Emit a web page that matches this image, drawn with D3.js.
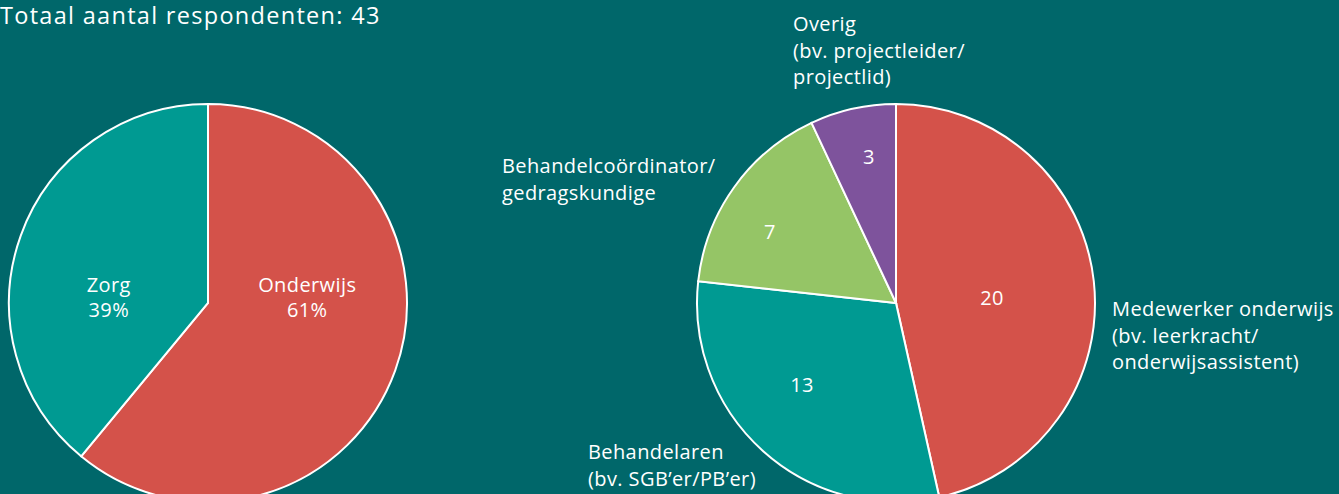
<!DOCTYPE html>
<html>
<head>
<meta charset="utf-8">
<script src="https://cdn.jsdelivr.net/npm/d3@7"></script>
<style>
  html, body { margin: 0; padding: 0; background: #00676a; }
  svg { display: block; }
  text { font-family: "Open Sans", sans-serif; fill: #fff; letter-spacing: 0.4px; }
</style>
</head>
<body>
<div id="chart"></div>
<script>
// data
const title = "Totaal aantal respondenten: 43";
const sectorNames = ["Onderwijs", "Zorg"];
const sectorPct = [61, 39];
const sectorColors = ["#d4524a", "#009a92"];

const roleNames = [
  ["Medewerker onderwijs", "(bv. leerkracht/", "onderwijsassistent)"],
  ["Behandelaren", "(bv. SGB\u2019er/PB\u2019er)"],
  ["Behandelco\u00f6rdinator/", "gedragskundige"],
  ["Overig", "(bv. projectleider/", "projectlid)"]
];
const roleCounts = [20, 13, 7, 3];
const roleColors = ["#d4524a", "#009a92", "#95c566", "#7e539c"];

const width = 1339, height = 494;
const R = 199;

const svg = d3.select("#chart").append("svg")
    .attr("width", width)
    .attr("height", height);

svg.append("text")
    .attr("x", 0)
    .attr("y", 24)
    .style("font-size", "23.5px")
    .style("letter-spacing", "1.3px")
    .text(title);

const pie = d3.pie().sort(null).value(d => d);
const arc = d3.arc().innerRadius(0).outerRadius(R);

// linker taart
const left = svg.append("g").attr("transform", "translate(208,303)");
const leftArcs = pie(sectorPct);
left.selectAll("path").data(leftArcs).enter().append("path")
    .attr("d", arc)
    .style("fill", (d, i) => sectorColors[i])
    .style("stroke", "#fff")
    .style("stroke-width", 2);

const leftLabel = d3.arc().innerRadius(0).outerRadius(R * 1.06);
left.selectAll(".lbl").data(leftArcs).enter().append("text")
    .attr("class", "lbl")
    .attr("text-anchor", "middle")
    .style("font-size", "20px")
    .each(function(d, i) {
        const cx = leftLabel.centroid(d)[0];
        d3.select(this).append("tspan").attr("x", cx).attr("y", -11).text(sectorNames[i]);
        d3.select(this).append("tspan").attr("x", cx).attr("y", 14).text(sectorPct[i] + "%");
    });

// rechter taart
const right = svg.append("g").attr("transform", "translate(896,303)");
const rightArcs = pie(roleCounts);
right.selectAll("path").data(rightArcs).enter().append("path")
    .attr("d", arc)
    .style("fill", (d, i) => roleColors[i])
    .style("stroke", "#fff")
    .style("stroke-width", 2);

// getallen in de taartpunten (handmatig geplaatst zoals in het origineel)
const valuePos = [[96, -5], [-94, 82], [-126, -71], [-27, -146]];
right.selectAll(".val").data(rightArcs).enter().append("text")
    .attr("class", "val")
    .attr("text-anchor", "middle")
    .attr("dy", "0.35em")
    .attr("transform", (d, i) => `translate(${valuePos[i]})`)
    .style("font-size", "20px")
    .text(d => d.data);

// buitenlabels (positie t.o.v. het midden)
const outerPos = [[216, 13], [-308, 156], [-394, -130], [-103, -272]];
right.selectAll(".out").data(roleNames).enter().append("text")
    .attr("class", "out")
    .attr("transform", (d, i) => `translate(${outerPos[i]})`)
    .style("font-size", "20px")
    .each(function(lines) {
        lines.forEach((t, j) => {
            d3.select(this).append("tspan").attr("x", 0).attr("y", j * 26.5).text(t);
        });
    });
</script>
</body>
</html>
